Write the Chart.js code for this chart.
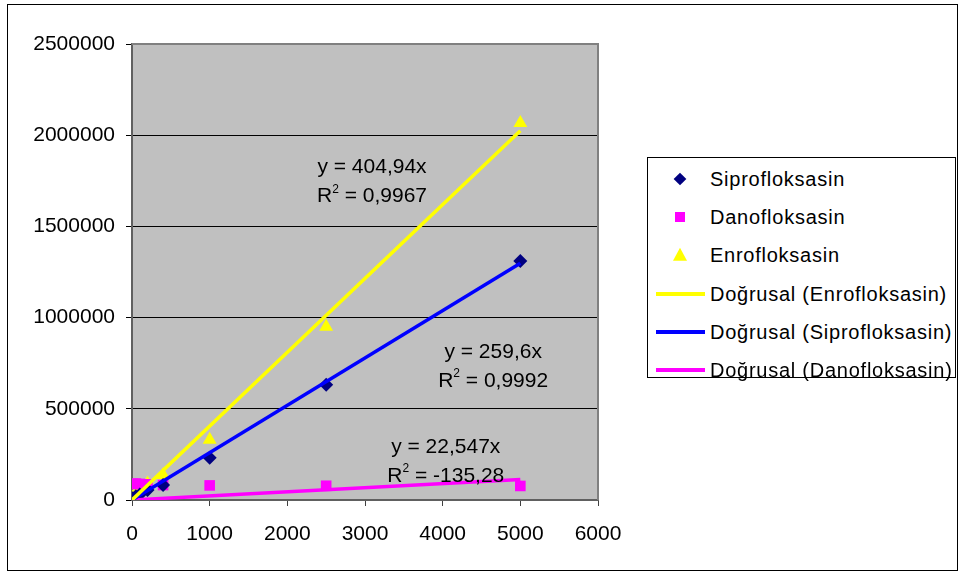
<!DOCTYPE html>
<html>
<head>
<meta charset="utf-8">
<script src="https://cdn.jsdelivr.net/npm/chart.js@4.4.1/dist/chart.umd.min.js"></script>
<style>
  body { margin:0; background:#fff; font-family:'Liberation Sans', Arial, sans-serif; }
  #frame { position:absolute; left:7px; top:4px; width:949px; height:565px; border:1px solid #000; }
  #wrap { position:absolute; left:0; top:0; width:964px; height:577px; }
  #legend { position:absolute; left:647px; top:157px; width:307px; height:219px; border:1px solid #000; background:#fff; }
  .row { position:absolute; left:0; height:30px; width:100%; font-size:20px; color:#000; }
  .row span { position:absolute; left:62px; top:50%; transform:translateY(-50%); white-space:nowrap; letter-spacing:0.75px; }
  .mk { position:absolute; left:32px; top:50%; }
  .diamond { width:9px; height:9px; background:#000080; transform:translate(-50%,-50%) rotate(45deg); }
  .square { width:10px; height:10px; background:#ff00ff; transform:translate(-50%,-50%); }
  .tri { width:0; height:0; border-left:7px solid transparent; border-right:7px solid transparent; border-bottom:13px solid #ffff00; transform:translate(-50%,-55%); }
  .ln { position:absolute; left:8px; width:49px; height:4px; top:50%; transform:translateY(-50%); }
</style>
</head>
<body>
<div id="frame"></div>
<div id="wrap"><canvas id="chart" width="964" height="577"></canvas></div>
<div id="legend"></div>
<script>
// concentrations (x) and peak areas (y)
let xVals = [10, 50, 100, 200, 400, 1000, 2500, 5000];
let sipro = [10000, 20000, 30000, 55000, 82000, 232000, 632000, 1310000];
let dano = [88000, 90000, 88000, 86000, 82000, 80000, 78000, 77000];
let enro = [15000, 30000, 60000, 90000, 137000, 330000, 950000, 2067000];

// trendline end points (through origin)
let trendX = [0, 5000];
let enroTrend = [0, 2024700];
let siproTrend = [0, 1298000];
let danoTrend = [0, 112735];

let names = ['Siprofloksasin', 'Danofloksasin', 'Enrofloksasin',
  'Doğrusal (Enrofloksasin)', 'Doğrusal (Siprofloksasin)', 'Doğrusal (Danofloksasin)'];

let xTicks = [0, 1000, 2000, 3000, 4000, 5000, 6000];
let yTicks = [0, 500000, 1000000, 1500000, 2000000, 2500000];

// equation labels: text and where they sit (data coords)
let labels = [
  {eq:'y = 404,94x', r2:'0,9967', x:3090, y:1830000},
  {eq:'y = 259,6x', r2:'0,9992', x:4650, y:818000},
  {eq:'y = 22,547x', r2:'-135,28', x:4040, y:296000}
];

let pts = (xs, ys) => xs.map((x, i) => ({x: x, y: ys[i]}));

Chart.defaults.font.family = "'Liberation Sans', Arial, sans-serif";
Chart.defaults.font.size = 21;
Chart.defaults.color = '#000';

let plotBg = {
  id: 'plotBg',
  beforeDraw(c) {
    let a = c.chartArea, ctx = c.ctx;
    ctx.save();
    ctx.fillStyle = '#c0c0c0';
    ctx.fillRect(a.left, a.top, a.right - a.left, a.bottom - a.top);
    ctx.restore();
  },
  afterDraw(c) {
    let a = c.chartArea, ctx = c.ctx;
    ctx.save();
    ctx.strokeStyle = '#808080';
    ctx.lineWidth = 2;
    ctx.beginPath();
    ctx.moveTo(a.left, a.top); ctx.lineTo(a.right, a.top); ctx.lineTo(a.right, a.bottom);
    ctx.stroke();
    ctx.restore();
  }
};

let eqLabels = {
  id: 'eqLabels',
  afterDatasetsDraw(c) {
    let ctx = c.ctx, sx = c.scales.x, sy = c.scales.y;
    ctx.save();
    ctx.fillStyle = '#000';
    ctx.textBaseline = 'middle';
    labels.forEach(l => {
      let cx = sx.getPixelForValue(l.x), cy = sy.getPixelForValue(l.y);
      ctx.font = "21px 'Liberation Sans', Arial";
      ctx.textAlign = 'center';
      ctx.fillText(l.eq, cx, cy + 1);
      let rest = ' = ' + l.r2;
      let wR = ctx.measureText('R').width, wRest = ctx.measureText(rest).width;
      ctx.font = "12px 'Liberation Sans', Arial";
      let w2 = ctx.measureText('2').width;
      let total = wR + w2 + wRest, x0 = cx - total / 2, y2 = cy + 30;
      ctx.textAlign = 'left';
      ctx.fillText('2', x0 + wR, y2 - 7);
      ctx.font = "21px 'Liberation Sans', Arial";
      ctx.fillText('R', x0, y2);
      ctx.fillText(rest, x0 + wR + w2, y2);
    });
    ctx.restore();
  }
};

let chart = new Chart(document.getElementById('chart'), {
  type: 'scatter',
  data: {
    datasets: [
      {label: names[0], data: pts(xVals, sipro), pointStyle: 'rectRot', pointRadius: 7,
       backgroundColor: '#000080', borderColor: '#000080', borderWidth: 0, order: 1},
      {label: names[1], data: pts(xVals, dano), pointStyle: 'rect', pointRadius: 7.5,
       backgroundColor: '#ff00ff', borderColor: '#ff00ff', borderWidth: 0, order: 1},
      {label: names[2], data: pts(xVals, enro), pointStyle: 'triangle', pointRadius: 8,
       backgroundColor: '#ffff00', borderColor: '#ffff00', borderWidth: 0, order: 1},
      {label: names[3], data: pts(trendX, enroTrend), showLine: true, pointRadius: 0,
       borderColor: '#ffff00', borderWidth: 3.5, order: 0},
      {label: names[4], data: pts(trendX, siproTrend), showLine: true, pointRadius: 0,
       borderColor: '#0000ff', borderWidth: 3.5, order: 0},
      {label: names[5], data: pts(trendX, danoTrend), showLine: true, pointRadius: 0,
       borderColor: '#ff00ff', borderWidth: 3.5, order: 0}
    ]
  },
  options: {
    responsive: false,
    animation: false,
    layout: {padding: {left: 0, top: 44, right: 366, bottom: 0}},
    plugins: {legend: {display: false}, tooltip: {enabled: false}},
    scales: {
      x: {
        type: 'linear', min: 0, max: 6000,
        afterBuildTicks: s => { s.ticks = xTicks.map(v => ({value: v})); },
        afterFit: s => { s.height = 77; },
        grid: {drawOnChartArea: false, drawTicks: true, tickLength: 6, color: '#404040'},
        border: {color: '#606060', width: 2},
        ticks: {padding: 16, callback: v => v}
      },
      y: {
        type: 'linear', min: 0, max: 2500000,
        afterBuildTicks: s => { s.ticks = yTicks.map(v => ({value: v})); },
        afterFit: s => { s.width = 132; },
        grid: {color: '#000', lineWidth: 1, tickLength: 6},
        border: {color: '#606060', width: 2},
        ticks: {padding: 11, callback: v => v}
      }
    }
  },
  plugins: [plotBg, eqLabels]
});

// legend
let legend = document.getElementById('legend');
let marks = ['<div class="mk diamond"></div>', '<div class="mk square"></div>', '<div class="mk tri"></div>',
  '<div class="ln" style="background:#ffff00"></div>', '<div class="ln" style="background:#0000ff"></div>',
  '<div class="ln" style="background:#ff00ff"></div>'];
names.forEach((n, i) => {
  legend.innerHTML += `<div class="row" style="top:${6 + i * 38.2}px">${marks[i]}<span>${n}</span></div>`;
});
</script>
</body>
</html>
